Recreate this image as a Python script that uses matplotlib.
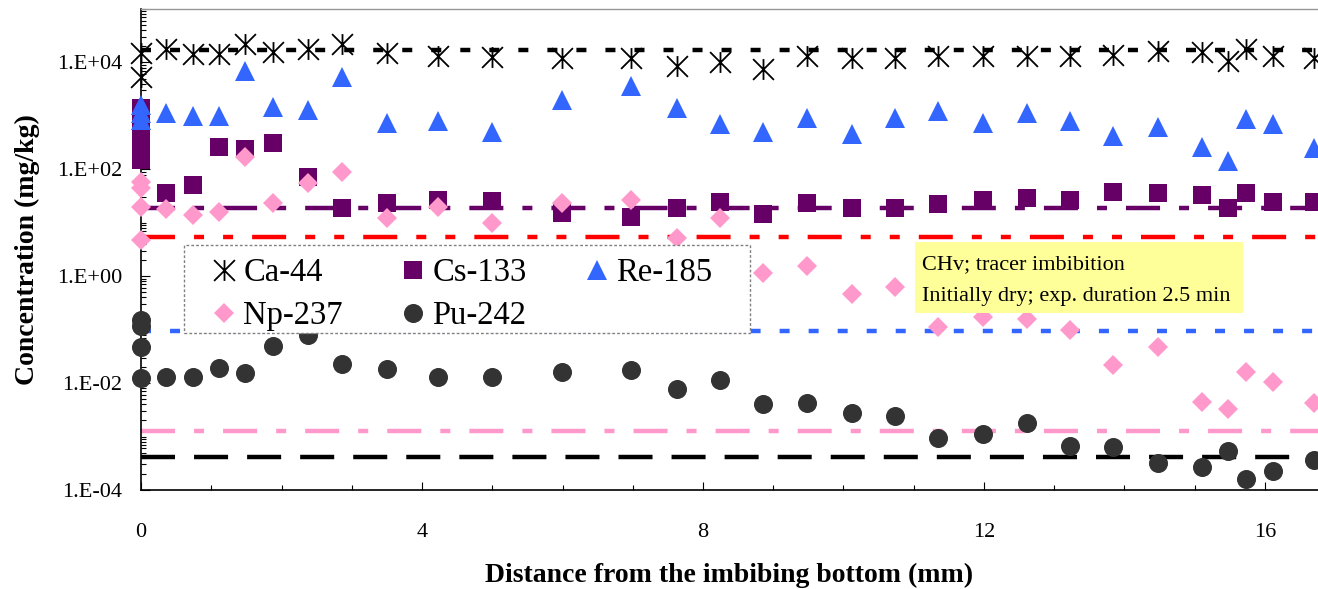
import numpy as np
import matplotlib
matplotlib.use('Agg')
import matplotlib.pyplot as plt
from matplotlib.path import Path
from matplotlib.patches import Rectangle
from matplotlib.ticker import FixedLocator, LogLocator, NullFormatter, MultipleLocator

plt.rcParams['font.family'] = ['Liberation Serif', 'DejaVu Serif']
plt.rcParams['lines.scale_dashes'] = False

# sampling positions (mm)
dist = [0, 0.36, 0.74, 1.11, 1.48, 1.88, 2.38, 2.86, 3.50, 4.23, 5.00, 5.99, 6.98, 7.63,
        8.24, 8.85, 9.48, 10.12, 10.73, 11.35, 11.99, 12.61, 13.22, 13.84, 14.48, 15.10,
        15.47, 15.73, 16.11, 16.70]

# concentrations (mg/kg), one value per position in dist
ca44 = [1.5e4, 1.8e4, 1.45e4, 1.45e4, 2.2e4, 1.6e4, 1.8e4, 2.2e4, 1.5e4, 1.3e4, 1.25e4,
        1.2e4, 1.2e4, 8.7e3, 1.0e4, 7.7e3, 1.3e4, 1.2e4, 1.2e4, 1.3e4, 1.3e4, 1.3e4,
        1.3e4, 1.35e4, 1.65e4, 1.6e4, 1.07e4, 1.8e4, 1.3e4, 1.2e4]
cs133 = [1390, 36, 52, 265, 245, 315, 73, 19, 23.6, 27, 26, 15.4, 13, 19, 24.5, 14.7,
         23.6, 19, 19, 22.7, 27, 29.5, 27, 38, 36, 33, 19, 36, 24.5, 24.5]
re185 = [1620, 1150, 1000, 1000, 7000, 1480, 1290, 5400, 745, 810, 500, 1950, 3700,
         1410, 710, 500, 930, 465, 930, 1250, 745, 1150, 810, 425, 630, 265, 145, 890,
         710, 252]
np237 = [59, 18.3, 14, 16, 172, 23.6, 56, 90, 12.4, 20, 10, 23.6, 27, 5.2, 12.4, 1.16,
         1.56, 0.47, 0.63, 0.11, 0.17, 0.16, 0.10, 0.022, 0.048, 0.0045, 0.0033, 0.016,
         0.0105, 0.0043]
pu242 = [0.15, 0.0132, 0.0132, 0.019, 0.0155, 0.050, 0.079, 0.023, 0.0187, 0.0132,
         0.0132, 0.016, 0.0178, 0.0078, 0.0115, 0.0041, 0.0043, 0.0028, 0.0024, 0.00093,
         0.00112, 0.00178, 0.00066, 0.00065, 0.00032, 0.00027, 0.00054, 0.00016,
         0.00023, 0.00036]

# extra replicate samples at distance 0
ca44_at0 = [5.4e3]
cs133_at0 = [685, 329, 148]
re185_at0 = [1150, 850]
np237_at0 = [45, 20, 4.8]
pu242_at0 = [0.117, 0.048, 0.0126]

# horizontal reference levels (mg/kg)
ref_ca = 1.74e4
ref_cs = 19.1
ref_red = 5.5
ref_blue = 0.095
ref_np = 1.27e-3
ref_pu = 4.15e-4

ytick_vals = [1e-4, 1e-2, 1e0, 1e2, 1e4]
ytick_labels = ['1.E-04', '1.E-02', '1.E+00', '1.E+02', '1.E+04']
xtick_vals = [0, 4, 8, 12, 16]
note_lines = ['CHv; tracer imbibition', 'Initially dry; exp. duration 2.5 min']

fig = plt.figure(figsize=(13.18, 5.89), dpi=100)
ax = fig.add_axes([0.107, 0.1681, 0.893, 0.8166])
ax.set_yscale('log')
ax.set_ylim(1e-4, 1e5)
ax.set_xlim(0, 16.755)

# reference lines
lw = 3.2
ax.axhline(ref_ca, color='black', lw=lw, dashes=(7.2, 13.7), zorder=2)
ax.axhline(ref_cs, color='#660066', lw=lw, dashes=(24.5, 13.7, 7.2, 13.7), zorder=2)
ax.axhline(ref_red, color='#FF0000', lw=lw, dashes=(24.5, 13.7, 7.2, 13.7, 7.2, 13.7), zorder=2)
ax.axhline(ref_blue, color='#3366FF', lw=lw, dashes=(7.2, 13.7), zorder=2)
ax.axhline(ref_np, color='#FF99CC', lw=lw, dashes=(24.5, 13.7, 7.2, 13.7), zorder=2)
ax.axhline(ref_pu, color='black', lw=lw, dashes=(24.5, 13.7), zorder=2)

# asterisk marker (X plus vertical bar)
star = Path([(0, -1), (0, 1), (-1, -1), (1, 1), (-1, 1), (1, -1)],
            [Path.MOVETO, Path.LINETO] * 3)

h_ca, = ax.plot(dist + [0] * len(ca44_at0), ca44 + ca44_at0, ls='none', marker=star,
                ms=15, mec='black', mfc='none', mew=1.3, clip_on=False, zorder=3)
h_cs, = ax.plot(dist + [0] * len(cs133_at0), cs133 + cs133_at0, ls='none', marker='s',
                ms=13.5, color='#660066', mec='#660066', mew=0, clip_on=False, zorder=3)
h_re, = ax.plot(dist + [0] * len(re185_at0), re185 + re185_at0, ls='none', marker='^',
                ms=14.5, color='#3366FF', mew=0, clip_on=False, zorder=3)
h_np, = ax.plot(dist + [0] * len(np237_at0), np237 + np237_at0, ls='none', marker='D',
                ms=10.3, color='#FF99CC', mew=0, clip_on=False, zorder=3)
h_pu, = ax.plot(dist + [0] * len(pu242_at0), pu242 + pu242_at0, ls='none', marker='o',
                ms=13.7, color='#333333', mew=0, clip_on=False, zorder=3)

# legend box
ax.add_patch(Rectangle((0.0365, 0.3264), 0.4809, 0.183, transform=ax.transAxes,
                       facecolor='white', edgecolor='#808080', lw=1,
                       ls=(0, (2, 1.5)), zorder=5, clip_on=False))
leg = ax.legend([h_ca, h_np, h_cs, h_pu, h_re],
                ['Ca-44', 'Np-237', 'Cs-133', 'Pu-242', 'Re-185'],
                ncol=3, loc='upper left', bbox_to_anchor=(0.0602, 0.483),
                frameon=False, fontsize=23.5, borderpad=0, borderaxespad=0,
                handlelength=0.75, handletextpad=0.21, columnspacing=1.78,
                labelspacing=0.39, numpoints=1)
leg.set_zorder(6)

# note box
ax.add_patch(Rectangle((0.6576, 0.368), 0.2787, 0.1476, transform=ax.transAxes,
                       facecolor='#FFFF99', edgecolor='none', zorder=5))
ax.text(0.6636, 0.4595, note_lines[0], transform=ax.transAxes, fontsize=16,
        va='baseline', ha='left', zorder=6)
ax.text(0.6636, 0.3930, note_lines[1], transform=ax.transAxes, fontsize=16,
        va='baseline', ha='left', zorder=6)

# axes styling
for s in ['left', 'bottom']:
    ax.spines[s].set_linewidth(1.2)
ax.spines['right'].set_visible(False)
ax.spines['top'].set_color('#969696')
ax.spines['top'].set_linewidth(1.0)

ax.yaxis.set_major_locator(FixedLocator(ytick_vals))
ax.set_yticklabels(ytick_labels)
ax.yaxis.set_minor_locator(LogLocator(base=10, subs=np.arange(1, 10), numticks=30))
ax.yaxis.set_minor_formatter(NullFormatter())
ax.xaxis.set_major_locator(FixedLocator(xtick_vals))
ax.xaxis.set_minor_locator(MultipleLocator(1))

ax.tick_params(axis='y', which='major', direction='in', length=6.5, width=0.8,
               labelsize=16, pad=13.7)
ax.tick_params(axis='y', which='minor', direction='in', length=3.6, width=0.8)
ax.tick_params(axis='x', which='major', direction='in', length=5.8, width=0.8,
               labelsize=16, pad=23.8)
ax.tick_params(axis='x', which='minor', direction='in', length=3.6, width=0.8)

ax.set_xlabel('Distance from the imbibing bottom (mm)', fontsize=20, fontweight='bold')
ax.xaxis.set_label_coords(0.5, -0.152)
ax.set_ylabel('Concentration (mg/kg)', fontsize=20, fontweight='bold')
ax.yaxis.set_label_coords(-0.0858, 0.5)

fig.savefig('out.png', dpi=100)
